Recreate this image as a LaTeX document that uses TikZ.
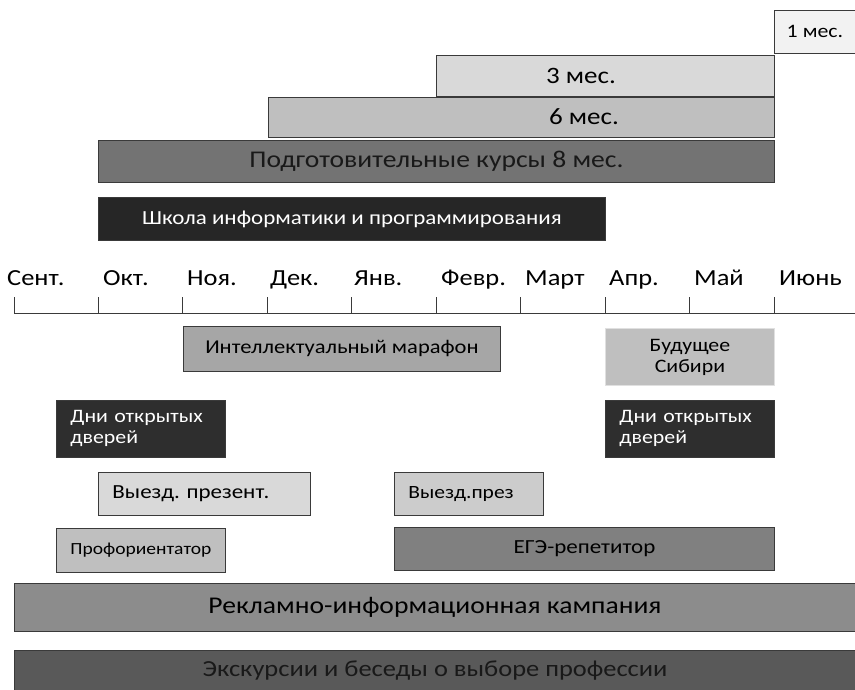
\documentclass[tikz,border=0pt]{standalone}
\usepackage{fontspec}
\setmainfont{Carlito}[FakeStretch=1.15]
\frenchspacing
\definecolor{edge}{HTML}{3A3A3A}
\tikzset{
  bar/.style={draw=edge, line width=0.9pt, inner sep=0pt, anchor=north west},
  note/.style={bar, align=left, text width=#1, inner xsep=14pt, inner ysep=0pt},
  month/.style={anchor=base west, inner sep=0pt, font=\fontsize{23}{23}\selectfont},
  big/.style={font=\fontsize{24}{24}\selectfont},
  mid/.style={font=\fontsize{19}{21}\selectfont},
}
\begin{document}
\begin{tikzpicture}[x=1pt,y=-1pt]
\useasboundingbox (0,0) rectangle (855,689);
% courses above the line
\node[bar, fill=black!5, minimum width=81pt, minimum height=43pt, font=\fontsize{19}{19}\selectfont] (m1) at (774,10) {1 мес.};
\node[bar, fill=black!15, minimum width=338pt, minimum height=41pt] (m3) at (436,55) {};
\node[font=\fontsize{23.5}{24}\selectfont] (t3) at (581,76) {3 мес.};
\node[bar, fill=black!25, minimum width=506pt, minimum height=40pt] (m6) at (268,97) {};
\node[font=\fontsize{23.5}{24}\selectfont] (t6) at (584,117) {6 мес.};
\node[bar, fill=black!55, minimum width=676pt, minimum height=42pt, big, text=black!90] (m8) at (98,140) {Подготовительные курсы 8 мес.};
\node[bar, fill=black!85, minimum width=507pt, minimum height=43pt, text=white, font=\fontsize{20}{20}\selectfont] (school) at (98,197) {Школа информатики и программирования};
% time line
\draw[edge, line width=0.9pt] (14,313) -- (855,313);
\foreach \i in {0,...,9}
  \draw[edge, line width=0.9pt] (14+84.44*\i,297) -- (14+84.44*\i,313);
\foreach \x/\name [count=\i] in {7/Сент., 103/Окт., 187/Ноя., 270/Дек., 354/Янв., 441/Февр., 525/Март, 609/Апр., 694/Май, 779/Июнь}
  \node[month] (mon\i) at (\x,285) {\name};
% events below the line
\node[bar, fill=black!35, minimum width=317pt, minimum height=45pt, font=\fontsize{19.6}{20}\selectfont] (marathon) at (183,326) {Интеллектуальный марафон};
\node[bar, draw=black!12, fill=black!25, minimum width=169pt, minimum height=57pt, mid, align=center] (siberia) at (605,328) {Будущее\\Сибири};
\node[note=141pt, fill=black!82, minimum height=57pt, text=white, mid] (open1) at (56,400) {Дни открытых\\дверей};
\node[note=141pt, fill=black!82, minimum height=57pt, text=white, mid] (open2) at (605,400) {Дни открытых\\дверей};
\node[note=184pt, fill=black!15, minimum height=43pt, font=\fontsize{20}{20}\selectfont] (trip1) at (98,472) {Выезд. презент.};
\node[note=121pt, fill=black!20, minimum height=43pt, font=\fontsize{18.7}{19}\selectfont] (trip2) at (394,472) {Выезд.през};
\node[bar, fill=black!25, minimum width=169pt, minimum height=44pt, font=\fontsize{17}{17}\selectfont] (prof) at (56,528) {Профориентатор};
\node[bar, fill=black!50, minimum width=380pt, minimum height=43pt, font=\fontsize{20}{20}\selectfont] (ege) at (394,527) {ЕГЭ-репетитор};
\node[bar, fill=black!45, minimum width=841pt, minimum height=48pt, big] (ads) at (14,583) {Рекламно-информационная кампания};
\node[bar, fill=black!65, minimum width=841pt, minimum height=40pt, font=\fontsize{23}{23}\selectfont, text=black!90] (trips) at (14,650) {Экскурсии и беседы о выборе профессии};
\end{tikzpicture}
\end{document}
